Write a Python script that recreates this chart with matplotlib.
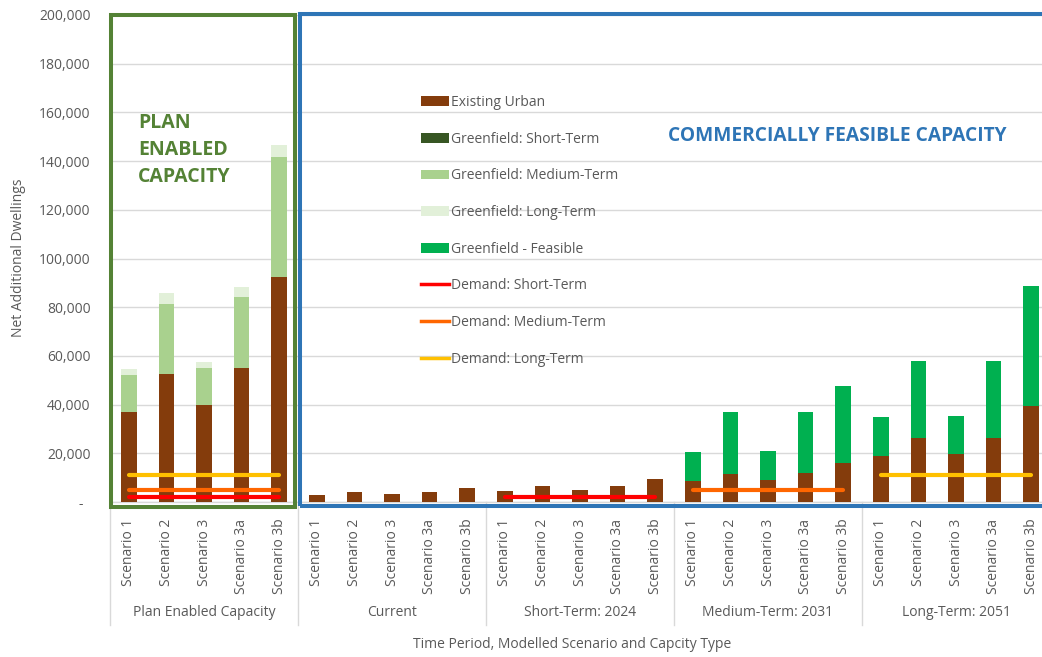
import matplotlib
matplotlib.use("Agg")
import matplotlib.pyplot as plt
from matplotlib.patches import Patch, Rectangle
from matplotlib.lines import Line2D
import numpy as np

plt.rcParams['font.family'] = ['Open Sans', 'DejaVu Sans']

# ---- data -------------------------------------------------------------
groups = ["Plan Enabled Capacity", "Current", "Short-Term: 2024",
          "Medium-Term: 2031", "Long-Term: 2051"]
scenarios = ["Scenario 1", "Scenario 2", "Scenario 3", "Scenario 3a", "Scenario 3b"]

existing_urban = [37000, 52500, 40000, 55000, 92500,
                  3000, 4000, 3200, 4000, 5800,
                  4700, 6500, 5000, 6500, 9300,
                  8800, 11600, 9000, 12000, 15900,
                  18900, 26300, 19700, 26300, 39400]
greenfield_short = [0] * 25
greenfield_medium = [15000, 29000, 15000, 29000, 49000] + [0] * 20
greenfield_long = [2500, 4500, 2500, 4300, 5000] + [0] * 20
greenfield_feasible = [0] * 15 + [11600, 25500, 11800, 25100, 31700,
                                  16000, 31600, 15700, 31600, 49400]

demand_short = 2000
demand_medium = 5000
demand_long = 11000

# ---- colours ----------------------------------------------------------
c_existing = "#843C0C"
c_gf_short = "#375623"
c_gf_medium = "#A9D18E"
c_gf_long = "#E2F0D9"
c_gf_feasible = "#00B050"
c_dem_short = "#FF0000"
c_dem_medium = "#FF6600"
c_dem_long = "#FFC000"
c_green_box = "#548235"
c_blue_box = "#2E75B6"
c_text = "#595959"
c_grid = "#D9D9D9"

W, H = 1042, 657
fig = plt.figure(figsize=(W / 100, H / 100), dpi=100)
ax = fig.add_axes([110 / W, 1 - 502 / H, 940 / W, 487 / H])

x = np.arange(len(existing_urban))
bw = 0.42
bottom = np.zeros(len(x))
for vals, col in [(existing_urban, c_existing), (greenfield_short, c_gf_short),
                  (greenfield_medium, c_gf_medium), (greenfield_long, c_gf_long),
                  (greenfield_feasible, c_gf_feasible)]:
    v = np.array(vals, dtype=float)
    ax.bar(x, v, bw, bottom=bottom, color=col, zorder=3, linewidth=0)
    bottom += v

# demand lines
lw_dem = 3.0
for lo, hi, val, col in [(0, 4, demand_long, c_dem_long),
                         (0, 4, demand_medium, c_dem_medium),
                         (0, 4, demand_short, c_dem_short),
                         (10, 14, demand_short, c_dem_short),
                         (15, 19, demand_medium, c_dem_medium),
                         (20, 24, demand_long, c_dem_long)]:
    ax.plot([lo, hi], [val, val], color=col, lw=lw_dem, solid_capstyle='round', zorder=4)

ax.set_xlim(-0.5, 24.5)
ax.set_ylim(0, 200000)
yt = np.arange(0, 200001, 20000)
ax.set_yticks(yt)
ax.set_yticklabels(["-  "] + [f"{v:,}" for v in yt[1:]])
ax.yaxis.grid(True, color=c_grid, lw=1, zorder=0)
ax.set_axisbelow(True)
for s in ax.spines.values():
    s.set_visible(False)
ax.tick_params(axis='y', length=0, pad=14, labelsize=10, labelcolor=c_text)

ax.set_xticks(x)
ax.set_xticklabels(scenarios * len(groups), rotation=90)
ax.tick_params(axis='x', length=0, pad=12, labelsize=10, labelcolor=c_text)

# category separators and group labels
xt = ax.get_xaxis_transform()
sep_drop = -(625 - 502) / 487
for b in [-0.5, 4.5, 9.5, 14.5, 19.5]:
    ax.plot([b, b], [0, sep_drop], color=c_grid, lw=1, transform=xt, clip_on=False, zorder=1)
ax.plot([-0.5, 24.5], [0, 0], color=c_grid, lw=1, transform=xt, clip_on=False, zorder=1)
for i, g in enumerate(groups):
    ax.text(i * 5 + 2, -(613 - 502) / 487, g, transform=xt, ha='center', va='center',
            fontsize=10, color=c_text)

ax.text(0.492, -(645 - 502) / 487, "Time Period, Modelled Scenario and Capcity Type",
        transform=ax.transAxes, ha='center', va='center', fontsize=10, color=c_text)
fig.text(19 / W, 1 - 258 / H, "Net Additional Dwellings", rotation=90,
         ha='center', va='center', fontsize=10, color=c_text)

# section frames
box_lw = 2.9
yb = -(507 - 502) / 487
ax.add_patch(Rectangle((-0.47, yb), 4.42 + 0.47, 1.0 - yb, transform=xt, fill=False,
                       edgecolor=c_green_box, lw=box_lw, clip_on=False, zorder=5))
ax.add_patch(Rectangle((4.55, yb + 0.002), 21.0, 1.0 - yb, transform=xt, fill=False,
                       edgecolor=c_blue_box, lw=box_lw, clip_on=False, zorder=5))

fig.text(138 / W, 1 - 150 / H, "PLAN\nENABLED\nCAPACITY", ha='left', va='center',
         fontsize=14, fontweight='bold', color=c_green_box, linespacing=1.45)
fig.text(837 / W, 1 - 136 / H, "COMMERCIALLY FEASIBLE CAPACITY", ha='center', va='center',
         fontsize=13.8, fontweight='bold', color=c_blue_box)

# legend
handles = [
    Patch(facecolor=c_existing, label="Existing Urban"),
    Patch(facecolor=c_gf_short, label="Greenfield: Short-Term"),
    Patch(facecolor=c_gf_medium, label="Greenfield: Medium-Term"),
    Patch(facecolor=c_gf_long, label="Greenfield: Long-Term"),
    Patch(facecolor=c_gf_feasible, label="Greenfield - Feasible"),
    Line2D([], [], color=c_dem_short, lw=2.5, label="Demand: Short-Term"),
    Line2D([], [], color=c_dem_medium, lw=2.5, label="Demand: Medium-Term"),
    Line2D([], [], color=c_dem_long, lw=2.5, label="Demand: Long-Term"),
]
leg = fig.legend(handles=handles, loc='upper left', bbox_to_anchor=(421 / W, 1 - 95 / H),
                 frameon=False, fontsize=10, labelcolor=c_text, handlelength=2.0,
                 handleheight=0.7, handletextpad=0.15, labelspacing=1.56, borderpad=0,
                 borderaxespad=0)

fig.savefig("out.png", dpi=100)
